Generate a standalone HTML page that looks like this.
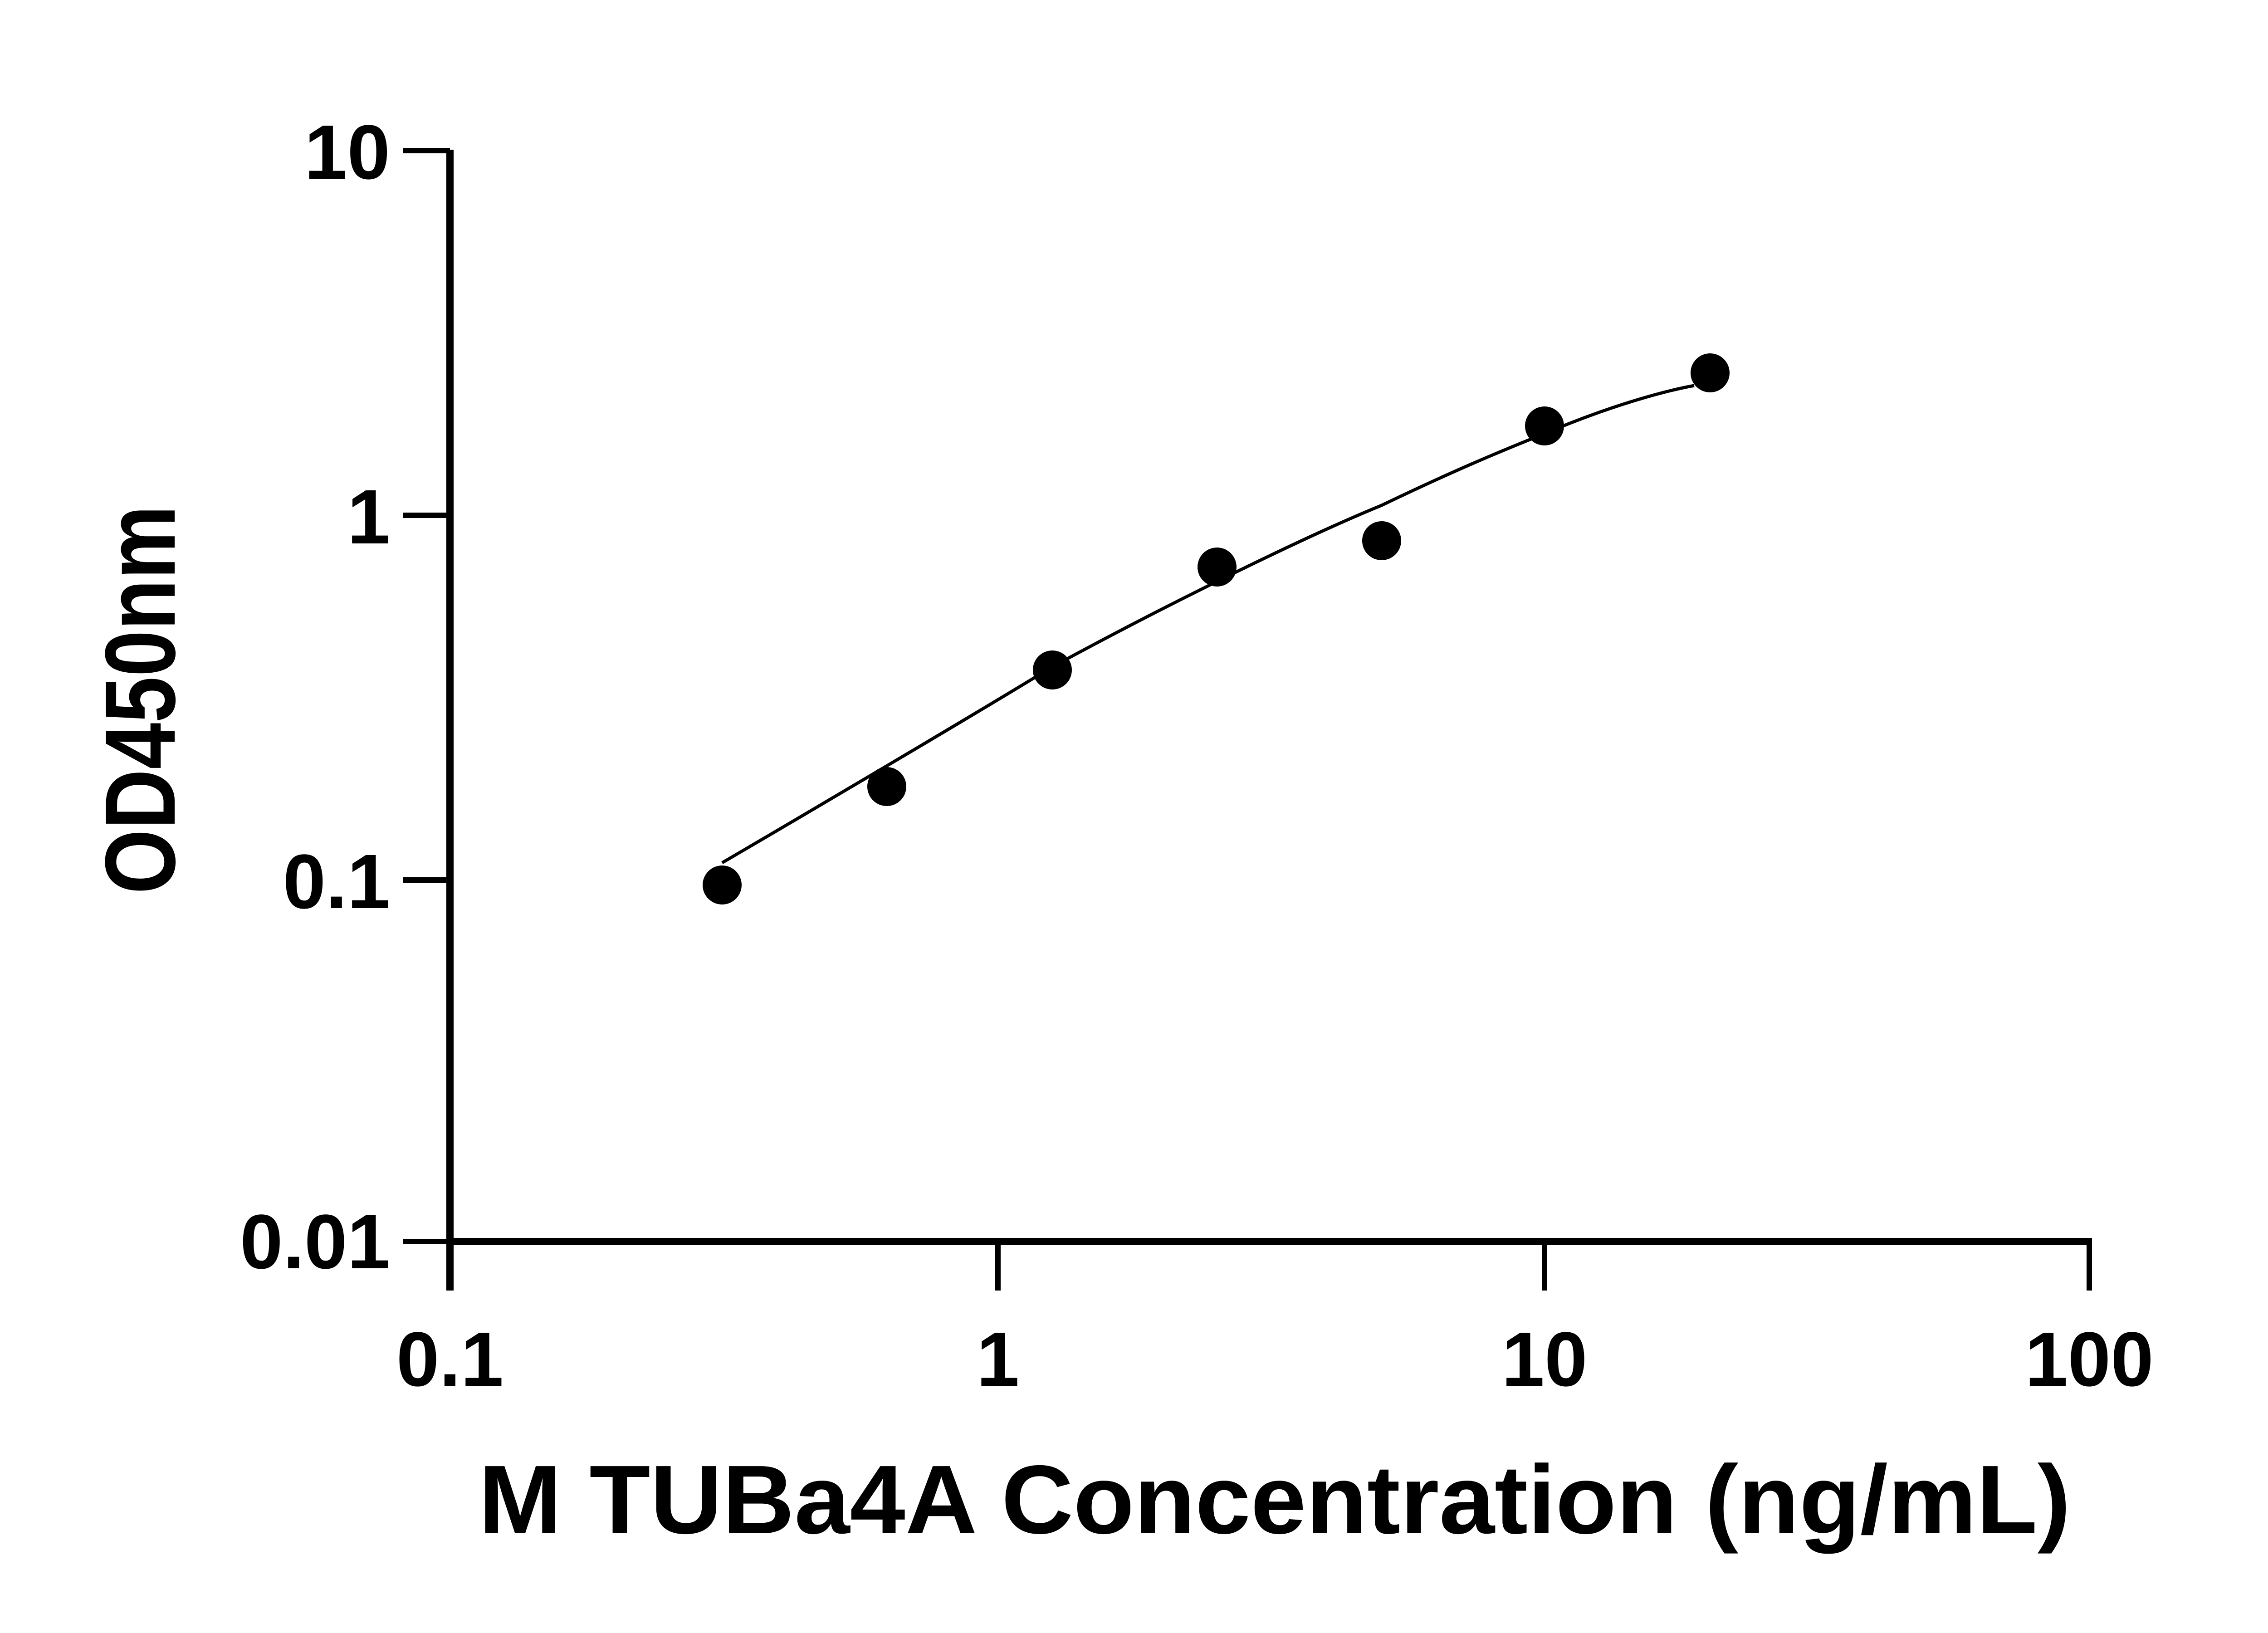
<!DOCTYPE html>
<html><head><meta charset="utf-8"><style>html,body{margin:0;padding:0;background:#fff}svg{display:block}</style></head>
<body>
<svg width="5142" height="3600" viewBox="0 0 5142 3600" xmlns="http://www.w3.org/2000/svg" font-family="Liberation Sans, Arial, sans-serif" font-weight="bold">
<rect width="5142" height="3600" fill="#fff"/>
<g stroke="#000" fill="none">
<line x1="992" y1="330" x2="992" y2="2845" stroke-width="16"/>
<line x1="984" y1="2737" x2="4612" y2="2737" stroke-width="16"/>
<g stroke-width="12">
<line x1="888" y1="332" x2="992" y2="332"/>
<line x1="888" y1="1136" x2="992" y2="1136"/>
<line x1="888" y1="1940" x2="992" y2="1940"/>
<line x1="888" y1="2737" x2="992" y2="2737"/>
<line x1="2200" y1="2737" x2="2200" y2="2845"/>
<line x1="3405" y1="2737" x2="3405" y2="2845"/>
<line x1="4606" y1="2737" x2="4606" y2="2845"/>
</g>
<path d="M1592,1902 C1775,1795 2140,1580 2320,1470 C2550,1345 2860,1190 3046,1114 C3200,1040 3300,998 3405,956 C3560,890 3680,860 3735,850" stroke-width="7"/>
</g>
<g fill="#000">
<circle cx="1592" cy="1951" r="43"/>
<circle cx="1955" cy="1734" r="43"/>
<circle cx="2320" cy="1477" r="43"/>
<circle cx="2683" cy="1250" r="43"/>
<circle cx="3046" cy="1192" r="43"/>
<circle cx="3405" cy="939" r="43"/>
<circle cx="3770" cy="822" r="43"/>
</g>
<g font-size="170" text-anchor="end" fill="#000">
<text x="860" y="394">10</text>
<text x="860" y="1198">1</text>
<text x="860" y="2002">0.1</text>
<text x="860" y="2796">0.01</text>
</g>
<g font-size="170" text-anchor="middle" fill="#000">
<text x="992" y="3055">0.1</text>
<text x="2200" y="3055">1</text>
<text x="3405" y="3055">10</text>
<text x="4606" y="3055">100</text>
</g>
<text x="1055" y="3380" font-size="215" textLength="3510" lengthAdjust="spacingAndGlyphs">M TUBa4A Concentration (ng/mL)</text>
<text transform="translate(385,1971) rotate(-90)" font-size="220" textLength="857" lengthAdjust="spacingAndGlyphs">OD450nm</text>
</svg>
</body></html>
